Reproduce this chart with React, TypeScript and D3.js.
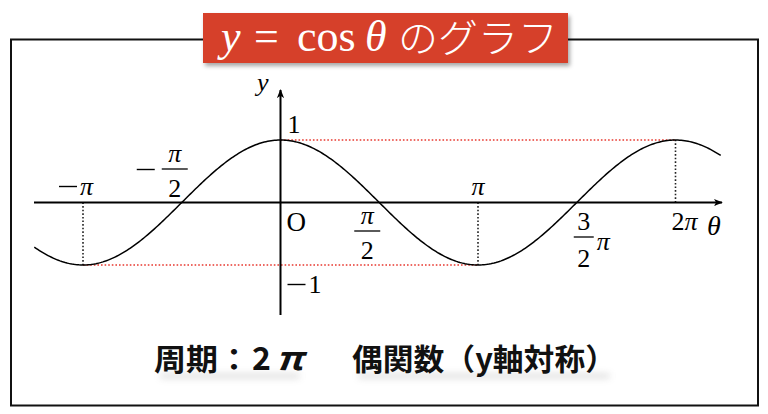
import React from "react";
import * as d3 from "d3";

const PI = Math.PI;
// visible θ-range of the drawn curve (in radians)
const thetaStart = -1.2466 * PI;
const thetaEnd = 2.229 * PI;
// reference lines: [θ from, θ to, y value]
const redGuides = [
  { from: 0, to: 2 * PI, value: 1 },
  { from: -PI, to: PI, value: -1 },
];
// vertical dotted drops: θ and the y value they reach
const dropLines = [
  { theta: -PI, value: -1 },
  { theta: PI, value: -1 },
  { theta: 2 * PI, value: 1 },
];
const title = { math: ["y", "=", "cos", "θ"], jp: "のグラフ" };
const footer = ["周期：", "2", "π", "偶関数（y軸対称）"];

const W = 768;
const H = 414;

export default function App() {
  const x = d3.scaleLinear().domain([0, PI]).range([280.5, 478]);
  const y = d3.scaleLinear().domain([-1, 1]).range([265, 140]);

  const pts: [number, number][] = d3
    .range(thetaStart, thetaEnd + 1e-9, (thetaEnd - thetaStart) / 400)
    .map((t) => [t, Math.cos(t)]);
  const line = d3
    .line<[number, number]>()
    .x((d) => x(d[0]))
    .y((d) => y(d[1]));

  const x0 = x(0);
  const y0 = y(0);
  const serif = "'Liberation Serif', 'DejaVu Serif', serif";
  const jp = "'Noto Sans CJK JP', sans-serif";
  const fs = 26;

  const minus = (mx: number, my: number, key: string) => (
    <line key={key} x1={mx} x2={mx + 18} y1={my} y2={my} stroke="#000" strokeWidth={1.4} />
  );

  const frac = (cx: number, top: string, bottom: string, barY: number, key: string) => (
    <g key={key}>
      <text x={cx} y={barY - 7} textAnchor="middle" fontFamily={serif} fontStyle="italic" fontSize={fs}>
        {top}
      </text>
      <line x1={cx - 13} x2={cx + 13} y1={barY} y2={barY} stroke="#000" strokeWidth={1.3} />
      <text x={cx} y={barY + 28} textAnchor="middle" fontFamily={serif} fontSize={fs}>
        {bottom}
      </text>
    </g>
  );

  return (
    <svg
      width={W}
      height={H}
      viewBox={`0 0 ${W} ${H}`}
      style={{ position: "absolute", left: 0, top: 0, background: "#fff" }}
    >
      <defs>
        <filter id="boxShadow" x="-10%" y="-20%" width="130%" height="160%">
          <feDropShadow dx="2" dy="3" stdDeviation="2" floodColor="#000" floodOpacity="0.35" />
        </filter>
        <filter id="soft" x="-20%" y="-200%" width="140%" height="500%">
          <feGaussianBlur stdDeviation="3.5" />
        </filter>
        <marker id="arrow" viewBox="0 0 10 10" refX="9" refY="5" markerWidth="9" markerHeight="9" markerUnits="userSpaceOnUse" orient="auto">
          <path d="M0,1 L10,5 L0,9 L2.5,5 Z" fill="#000" />
        </marker>
      </defs>

      {/* frame */}
      <rect x={11} y={39.5} width={747} height={366} fill="none" stroke="#111" strokeWidth={2} />

      {/* title box */}
      <rect x={203} y={13} width={365} height={50} fill="#D6402A" filter="url(#boxShadow)" />
      <g fill="#fff">
        <text x={221} y={51} fontFamily={serif} fontStyle="italic" fontSize={44}>{title.math[0]}</text>
        <text x={254} y={51} fontFamily={serif} fontSize={44}>{title.math[1]}</text>
        <text x={297} y={51} fontFamily={serif} fontSize={44}>{title.math[2]}</text>
        <text x={365} y={51} fontFamily={serif} fontStyle="italic" fontSize={44}>{title.math[3]}</text>
        <text x={398} y={52} fontFamily={jp} fontWeight={300} fontSize={39} textLength={160} lengthAdjust="spacingAndGlyphs">{title.jp}</text>
      </g>

      {/* guides */}
      {redGuides.map((g, i) => (
        <line
          key={"r" + i}
          x1={x(g.from)}
          x2={x(g.to)}
          y1={y(g.value)}
          y2={y(g.value)}
          stroke="#E8382F"
          strokeWidth={1.6}
          strokeDasharray="1.6 2"
        />
      ))}
      {dropLines.map((d, i) => (
        <line
          key={"d" + i}
          x1={x(d.theta)}
          x2={x(d.theta)}
          y1={y0}
          y2={y(d.value)}
          stroke="#222"
          strokeWidth={1.6}
          strokeDasharray="1.6 2"
        />
      ))}

      {/* axes */}
      <line x1={34} x2={722} y1={y0} y2={y0} stroke="#000" strokeWidth={2} markerEnd="url(#arrow)" />
      <line x1={x0} x2={x0} y1={315} y2={90} stroke="#000" strokeWidth={2} markerEnd="url(#arrow)" />

      {/* curve */}
      <path d={line(pts) || ""} fill="none" stroke="#000" strokeWidth={1.5} />

      {/* labels */}
      <g fontFamily={serif} fontSize={fs} fill="#000">
        <text x={257} y={91} fontStyle="italic">y</text>
        <text x={x0 + 7} y={133}>1</text>
        <text x={x0 + 6} y={231} fontSize={27}>O</text>
        <text x={x0 + 28} y={293}>1</text>
      </g>
      {minus(x0 + 7, 284.5, "m1")}
      {/* θ axis label */}
      <text x={707} y={235} fontFamily={serif} fontStyle="italic" fontSize={28}>θ</text>
      {/* −π */}
      {minus(x(-PI) - 24, 186.5, "mpi")}
      <text x={x(-PI) - 3} y={195} fontFamily={serif} fontStyle="italic" fontSize={fs}>π</text>
      {/* −π/2 */}
      {minus(x(-PI / 2) - 45, 169.5, "mpi2")}
      {frac(x(-PI / 2) - 7, "π", "2", 169, "mh")}
      {/* π/2 */}
      {frac(x(PI / 2) - 12, "π", "2", 231, "ph")}
      {/* π */}
      <text x={x(PI)} y={195} textAnchor="middle" fontFamily={serif} fontStyle="italic" fontSize={fs}>π</text>
      {/* 3π/2 */}
      <g>
        <text x={x(1.5 * PI) + 7} y={230} textAnchor="middle" fontFamily={serif} fontSize={fs}>3</text>
        <line x1={x(1.5 * PI) - 3} x2={x(1.5 * PI) + 17} y1={237} y2={237} stroke="#000" strokeWidth={1.3} />
        <text x={x(1.5 * PI) + 7} y={267} textAnchor="middle" fontFamily={serif} fontSize={fs}>2</text>
        <text x={x(1.5 * PI) + 20} y={250} fontFamily={serif} fontStyle="italic" fontSize={fs}>π</text>
      </g>
      {/* 2π */}
      <text x={x(2 * PI) + 9} y={230} textAnchor="middle" fontFamily={serif} fontSize={fs}>
        2<tspan fontStyle="italic">π</tspan>
      </text>

      {/* footer */}
      <g fill="#999" opacity={0.4} filter="url(#soft)">
        <rect x={160} y={374} width={140} height={4} rx={2} />
        <rect x={358} y={374} width={252} height={4} rx={2} />
      </g>
      <g fontFamily={jp} fontWeight={700} fontSize={30} fill="#111">
        <text x={154} y={370} textLength={96} lengthAdjust="spacingAndGlyphs">{footer[0]}</text>
        <text x={252} y={370} fontSize={32}>{footer[1]}</text>
        <text x={276} y={370} fontSize={32} fontStyle="italic" textLength={27} lengthAdjust="spacingAndGlyphs">{footer[2]}</text>
        <text x={352} y={370} textLength={264} lengthAdjust="spacingAndGlyphs">{footer[3]}</text>
      </g>
    </svg>
  );
}
